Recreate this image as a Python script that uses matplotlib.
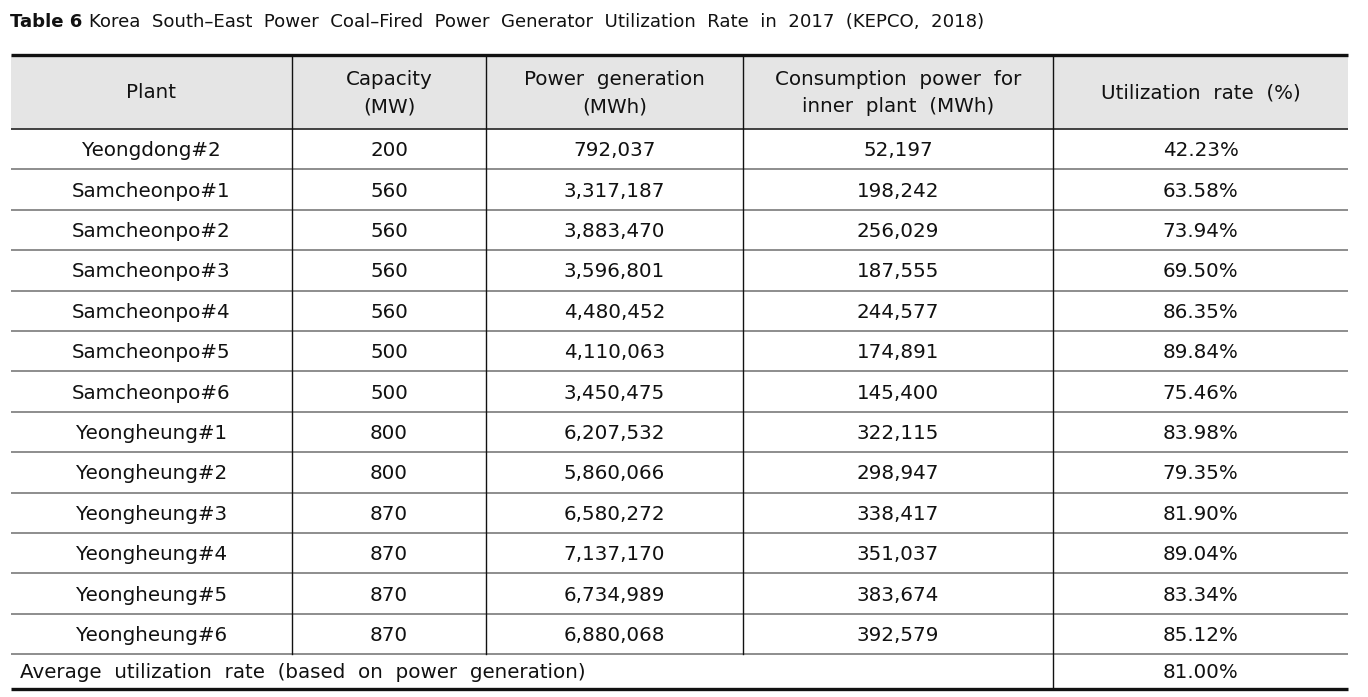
import numpy as np
import matplotlib
matplotlib.use("Agg")
import matplotlib.pyplot as plt

plt.rcParams['font.family'] = ['DejaVu Sans']

title_bold = "Table 6"
title_rest = "Korea South\u2013East Power Coal\u2013Fired Power Generator Utilization Rate in 2017 (KEPCO, 2018)"

headers = ["Plant", "Capacity\n(MW)", "Power generation\n(MWh)",
           "Consumption power for\ninner plant (MWh)", "Utilization rate (%)"]

plants = ["Yeongdong#2", "Samcheonpo#1", "Samcheonpo#2", "Samcheonpo#3",
          "Samcheonpo#4", "Samcheonpo#5", "Samcheonpo#6", "Yeongheung#1",
          "Yeongheung#2", "Yeongheung#3", "Yeongheung#4", "Yeongheung#5",
          "Yeongheung#6"]
capacity = [200, 560, 560, 560, 560, 500, 500, 800, 800, 870, 870, 870, 870]
generation = [792037, 3317187, 3883470, 3596801, 4480452, 4110063, 3450475,
              6207532, 5860066, 6580272, 7137170, 6734989, 6880068]
inner_use = [52197, 198242, 256029, 187555, 244577, 174891, 145400,
             322115, 298947, 338417, 351037, 383674, 392579]
util_rate = [42.23, 63.58, 73.94, 69.50, 86.35, 89.84, 75.46,
             83.98, 79.35, 81.90, 89.04, 83.34, 85.12]
avg_label = "Average utilization rate (based on power generation)"
avg_rate = 81.00


def wide(s):
    # the source typeface sets words far apart
    return s.replace(" ", "  ")


# layout in pixels
W, H = 1368, 697
col_x = [11, 292, 486, 743, 1053, 1348]
top_y = 55
head_h = 74
row_h = 40.4
last_h = 35
fs = 14.3
tfs = 13.1
ink = '#111'

fig = plt.figure(figsize=(W / 100, H / 100), dpi=100)
ax = fig.add_axes([0, 0, 1, 1])
ax.set_xlim(0, W)
ax.set_ylim(H, 0)
ax.axis('off')

# title
t1 = ax.text(10, 22, title_bold + " ", fontsize=tfs, fontweight='bold', va='center', ha='left', color=ink)
fig.canvas.draw()
bb = t1.get_window_extent()
ax.text(bb.x1, 22, wide(title_rest), fontsize=tfs, va='center', ha='left', color=ink)

x0, x1 = col_x[0], col_x[-1]
head_bot = top_y + head_h
n = len(plants)
data_bot = head_bot + n * row_h
bot_y = data_bot + last_h

# header background
ax.fill_between([x0, x1], top_y, head_bot, color='#e5e5e5', lw=0)

for i, h in enumerate(headers):
    cx = (col_x[i] + col_x[i + 1]) / 2
    ax.text(cx, top_y + head_h / 2 + 1, wide(h), fontsize=fs, ha='center', va='center',
            linespacing=1.55, color=ink)

for r in range(n):
    cy = head_bot + (r + 0.5) * row_h + 1.5
    vals = [plants[r], str(capacity[r]), f"{generation[r]:,}", f"{inner_use[r]:,}",
            f"{util_rate[r]:.2f}%"]
    for i, v in enumerate(vals):
        cx = (col_x[i] + col_x[i + 1]) / 2
        ax.text(cx, cy, v, fontsize=fs, ha='center', va='center', color=ink)
    if r > 0:
        y = head_bot + r * row_h
        ax.plot([x0, x1], [y, y], color='#7a7a7a', lw=1.2, solid_capstyle='butt')

# average row
cy = data_bot + last_h / 2 + 1
ax.text(20, cy, wide(avg_label), fontsize=fs, ha='left', va='center', color=ink)
ax.text((col_x[4] + col_x[5]) / 2, cy, f"{avg_rate:.2f}%", fontsize=fs, ha='center',
        va='center', color=ink)

# lines
ax.plot([x0, x1], [top_y, top_y], color=ink, lw=2.4, solid_capstyle='butt')
ax.plot([x0, x1], [head_bot, head_bot], color='#333', lw=1.3, solid_capstyle='butt')
ax.plot([x0, x1], [data_bot, data_bot], color='#7a7a7a', lw=1.2, solid_capstyle='butt')
ax.plot([x0, x1], [bot_y, bot_y], color=ink, lw=2.4, solid_capstyle='butt')
for x in col_x[1:4]:
    ax.plot([x, x], [top_y, data_bot], color=ink, lw=1.0)
ax.plot([col_x[4], col_x[4]], [top_y, bot_y], color=ink, lw=1.0)

fig.savefig("out.png", dpi=100)
